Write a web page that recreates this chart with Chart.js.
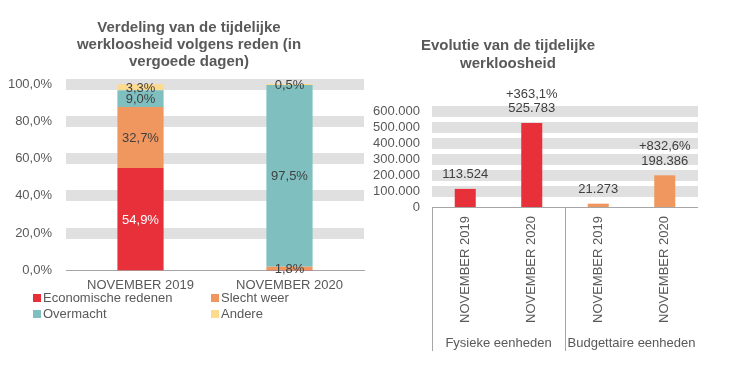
<!DOCTYPE html>
<html>
<head>
<meta charset="utf-8">
<script src="https://cdn.jsdelivr.net/npm/chart.js@4/dist/chart.umd.min.js"></script>
<style>
  html, body { margin: 0; padding: 0; background: #ffffff; }
  body { width: 739px; height: 367px; position: relative; overflow: hidden; font-family: 'Liberation Sans', Arial, sans-serif; }
  #leftWrap { position: absolute; left: 0; top: 0; width: 370px; height: 367px; }
  #rightWrap { position: absolute; left: 318px; top: 0; width: 380px; height: 367px; }
  #legend { position: absolute; left: 0; top: 0; width: 370px; height: 367px; pointer-events: none; }
  .lg { position: absolute; font-size: 13px; color: #595959; line-height: 16px; white-space: nowrap; }
  .lg span.box { position: absolute; width: 8px; height: 8px; top: 4px; left: -10px; }
</style>
</head>
<body>
<div id="leftWrap"><canvas id="left" width="370" height="367"></canvas></div>
<div id="rightWrap"><canvas id="right" width="380" height="367"></canvas></div>
<div id="legend"></div>
<script>
// ---------- data ----------
const leftCategories = ['NOVEMBER 2019', 'NOVEMBER 2020'];
const reasons = ['Economische redenen', 'Slecht weer', 'Overmacht', 'Andere'];
const economische = [54.9, 0.2];
const slechtWeer = [32.7, 1.8];
const overmacht = [9.0, 97.5];
const andere = [3.3, 0.5];
const leftTitle = ['Verdeling van de tijdelijke', 'werkloosheid volgens reden (in', 'vergoede dagen)'];

const rightCategories = ['NOVEMBER 2019', 'NOVEMBER 2020', 'NOVEMBER 2019', 'NOVEMBER 2020'];
const rightGroups = ['Fysieke eenheden', 'Budgettaire eenheden'];
const werkloosheid = [113524, 525783, 21273, 198386];
const evolutie = [null, '+363,1%', null, '+832,6%'];
const rightTitle = ['Evolutie van de tijdelijke', 'werkloosheid'];

// ---------- styles ----------
const RED = '#E8303A', ORANGE = '#F0975F', TEAL = '#7FBFBF', YELLOW = '#FDDA8E';
const reasonColors = [RED, ORANGE, TEAL, YELLOW];
const labelColors = ['#ffffff', '#404040', '#404040', '#404040'];
const barColorsRight = [RED, RED, ORANGE, ORANGE];
const TXT = '#595959';
const BAND = '#E0E0E0';
const AXIS = '#A6A6A6';
const FONT = "'Liberation Sans', Arial, sans-serif";

Chart.defaults.font.family = FONT;
Chart.defaults.font.size = 13;
Chart.defaults.color = TXT;
Chart.defaults.animation = false;

const fmtPct = v => v.toFixed(1).replace('.', ',') + '%';
const fmtThousands = v => String(Math.round(v)).replace(/\B(?=(\d{3})+(?!\d))/g, '.');

const bandGrid = {
  drawTicks: false,
  color: c => (c.tick && c.tick.value === 0) ? 'rgba(0,0,0,0)' : BAND,
  lineWidth: c => (c.tick && c.tick.value === 0) ? 0 : 11
};

// title drawn at a fixed spot of the canvas (left chart)
function titlePlugin(lines, cx, firstY, lh) {
  return {
    id: 'customTitle',
    afterDraw(chart) {
      const ctx = chart.ctx;
      ctx.save();
      ctx.font = 'bold 15px ' + FONT;
      ctx.fillStyle = TXT;
      ctx.textAlign = 'center';
      ctx.textBaseline = 'middle';
      lines.forEach((t, i) => ctx.fillText(t, cx, firstY + i * lh));
      ctx.restore();
    }
  };
}

// ---------- left chart ----------
const leftLabelsPlugin = {
  id: 'leftLabels',
  afterDatasetsDraw(chart) {
    const ctx = chart.ctx;
    ctx.save();
    ctx.font = '13px ' + FONT;
    ctx.textAlign = 'center';
    ctx.textBaseline = 'middle';
    chart.data.datasets.forEach((ds, di) => {
      const meta = chart.getDatasetMeta(di);
      meta.data.forEach((bar, i) => {
        const v = ds.data[i];
        if (v == null || v < 0.5) return;
        ctx.fillStyle = labelColors[di];
        ctx.fillText(fmtPct(v), bar.x, (bar.y + bar.base) / 2 + 1);
      });
    });
    ctx.restore();
  }
};

const seriesLeft = [economische, slechtWeer, overmacht, andere];
new Chart(document.getElementById('left'), {
  type: 'bar',
  data: {
    labels: leftCategories,
    datasets: reasons.map((r, i) => ({
      label: r,
      data: seriesLeft[i],
      backgroundColor: reasonColors[i],
      borderWidth: 0,
      categoryPercentage: 1,
      barPercentage: 0.31
    }))
  },
  options: {
    responsive: false,
    layout: { padding: { left: 0, right: 6, top: 84, bottom: 67 } },
    plugins: {
      legend: { display: false },
      tooltip: { enabled: false },
      title: { display: false }
    },
    scales: {
      x: {
        stacked: true,
        grid: { display: false, drawTicks: false },
        border: { display: true, color: AXIS, width: 1 },
        ticks: { color: TXT, font: { size: 13 }, padding: 7 }
      },
      y: {
        stacked: true,
        min: 0, max: 100,
        grid: bandGrid,
        border: { display: false },
        ticks: { stepSize: 20, autoSkip: false, color: TXT, font: { size: 13 }, padding: 14, callback: v => fmtPct(v) },
        afterFit: s => { s.width = 66; }
      }
    }
  },
  plugins: [leftLabelsPlugin, titlePlugin(leftTitle, 189, 28, 17)]
});

// legend (HTML, from data arrays)
const legendPos = [[43, 290], [221, 290], [43, 306], [221, 306]];
const lg = document.getElementById('legend');
reasons.forEach((r, i) => {
  const d = document.createElement('div');
  d.className = 'lg';
  d.style.left = legendPos[i][0] + 'px';
  d.style.top = legendPos[i][1] + 'px';
  d.textContent = r;
  const b = document.createElement('span');
  b.className = 'box';
  b.style.background = reasonColors[i];
  d.appendChild(b);
  lg.appendChild(d);
});

// ---------- right chart ----------
const rightLabelsPlugin = {
  id: 'rightLabels',
  afterDatasetsDraw(chart) {
    const ctx = chart.ctx;
    const meta = chart.getDatasetMeta(0);
    ctx.save();
    ctx.font = '13px ' + FONT;
    ctx.textAlign = 'center';
    ctx.textBaseline = 'middle';
    ctx.fillStyle = '#404040';
    meta.data.forEach((bar, i) => {
      const lines = [evolutie[i], fmtThousands(werkloosheid[i])].filter(t => t != null);
      let y = bar.y - 14;
      for (let k = lines.length - 1; k >= 0; k--) {
        ctx.fillText(lines[k], bar.x, y);
        y -= 14.5;
      }
    });
    ctx.restore();
  },
  afterDraw(chart) {
    const ctx = chart.ctx;
    const xs = chart.scales.x;
    const area = chart.chartArea;
    const n = rightCategories.length;
    const perGroup = n / rightGroups.length;
    ctx.save();
    ctx.strokeStyle = AXIS;
    ctx.lineWidth = 1;
    for (let g = 0; g < rightGroups.length; g++) {
      const first = g * perGroup;
      const xLeft = first === 0 ? area.left
        : (xs.getPixelForValue(first - 1) + xs.getPixelForValue(first)) / 2;
      const px = Math.round(xLeft) + 0.5;
      ctx.beginPath();
      ctx.moveTo(px, area.bottom);
      ctx.lineTo(px, area.bottom + 144);
      ctx.stroke();
    }
    ctx.font = '13px ' + FONT;
    ctx.fillStyle = TXT;
    ctx.textAlign = 'center';
    ctx.textBaseline = 'middle';
    rightGroups.forEach((g, gi) => {
      const a = xs.getPixelForValue(gi * perGroup);
      const b = xs.getPixelForValue(gi * perGroup + perGroup - 1);
      ctx.fillText(g, (a + b) / 2, area.bottom + 136);
    });
    ctx.restore();
  }
};

new Chart(document.getElementById('right'), {
  type: 'bar',
  data: {
    labels: rightCategories,
    datasets: [{
      label: 'Tijdelijke werkloosheid',
      data: werkloosheid,
      backgroundColor: barColorsRight,
      borderWidth: 0,
      categoryPercentage: 1,
      barPercentage: 0.316
    }]
  },
  options: {
    responsive: false,
    layout: { padding: { left: 0, right: 0, top: 0, bottom: 35 } },
    plugins: {
      legend: { display: false },
      tooltip: { enabled: false },
      title: {
        display: true,
        text: rightTitle,
        color: TXT,
        font: { size: 15, weight: 'bold', lineHeight: 1.2 },
        padding: { top: 37, bottom: 38 }
      }
    },
    scales: {
      x: {
        grid: { display: false, drawTicks: false },
        border: { display: true, color: AXIS, width: 1 },
        ticks: { color: TXT, font: { size: 13 }, padding: 9, autoSkip: false, minRotation: 90, maxRotation: 90 }
      },
      y: {
        min: 0, max: 600000,
        grid: bandGrid,
        border: { display: false },
        ticks: { stepSize: 100000, autoSkip: false, color: TXT, font: { size: 13 }, padding: 12, callback: v => fmtThousands(v) },
        afterFit: s => { s.width = 114; }
      }
    }
  },
  plugins: [rightLabelsPlugin]
});
</script>
</body>
</html>
